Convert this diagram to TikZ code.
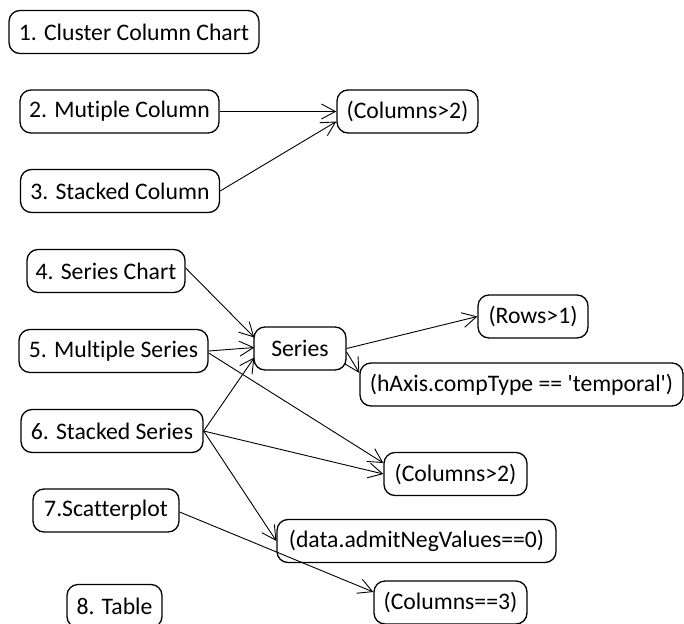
\documentclass[tikz,border=0pt]{standalone}
\usepackage{fontspec}
\setmainfont{Carlito}[Ligatures={NoCommon,NoRequired,NoContextual}]
\usetikzlibrary{arrows.meta,calc}
\tikzset{
  box/.style={draw, line width=1.3pt, rounded corners=11pt, inner sep=0pt,
    minimum height=43pt, font=\fontsize{23.7}{28}\selectfont, text=black},
  conn/.style={line width=0.9pt, -{Straight Barb[length=14pt,width=15pt,line width=0.9pt]}}
}
\begin{document}
\begin{tikzpicture}[x=1pt,y=1pt]
\useasboundingbox (0,0) rectangle (684,-623);
\node[box, minimum width=250pt] (n1) at (134,-32) {1. Cluster Column Chart};
\node[box, minimum width=199pt] (n2) at (119.5,-111.5) {2. Mutiple Column};
\node[box, minimum width=199pt] (n3) at (120,-191) {3. Stacked Column};
\node[box, minimum width=141pt] (c2) at (407.5,-111.5) {(Columns>2)};
\node[box, minimum width=158pt] (n4) at (106,-271) {4. Series Chart};
\node[box, minimum width=189pt] (n5) at (113.5,-351) {5. Multiple Series};
\node[box, minimum width=182pt] (n6) at (112,-431) {6. Stacked Series};
\node[box, minimum width=92pt] (ser) at (300,-348.5) {Series};
\node[box, minimum width=110pt] (rows) at (533,-316.5) {(Rows>1)};
\node[box, minimum width=323pt] (hax) at (521.5,-384.5) {(hAxis.compType == \textquotesingle temporal\textquotesingle)};
\node[box, minimum width=143pt] (c5) at (455.5,-474) {(Columns>2)};
\node[box, minimum width=279pt] (dneg) at (416.5,-541) {(data.admitNegValues==0)};
\node[box, minimum width=146pt] (sc7) at (106,-510.5) {7.Scatterplot};
\node[box, minimum width=153pt] (c3) at (450.5,-602.5) {(Columns==3)};
\node[box, minimum width=95pt] (t8) at (114.5,-606) {8. Table};

\draw[conn] (n2.east) -- (c2.west);
\draw[conn] (n3.east) -- ($(c2.west)+(0,-10)$);
\draw[conn] ($(n4.east)+(0,3)$) -- ($(ser.west)+(1,11)$);
\draw[conn] (n5.east) -- ($(ser.west)+(1,1)$);
\draw[conn] (n6.east) -- ($(ser.west)+(1,-9)$);
\draw[conn] ($(n5.east)+(0,-2)$) -- ($(c5.west)+(0,11)$);
\draw[conn] (n6.east) -- (c5.west);
\draw[conn] (n6.east) -- (dneg.west);
\draw[conn] ($(sc7.east)+(0,-1.5)$) -- ($(c3.west)+(0,10.5)$);
\draw[conn] (ser.east) -- (rows.west);
\draw[conn] ($(ser.east)+(0,-3.5)$) -- ($(hax.west)+(0,11.5)$);
\end{tikzpicture}
\end{document}
